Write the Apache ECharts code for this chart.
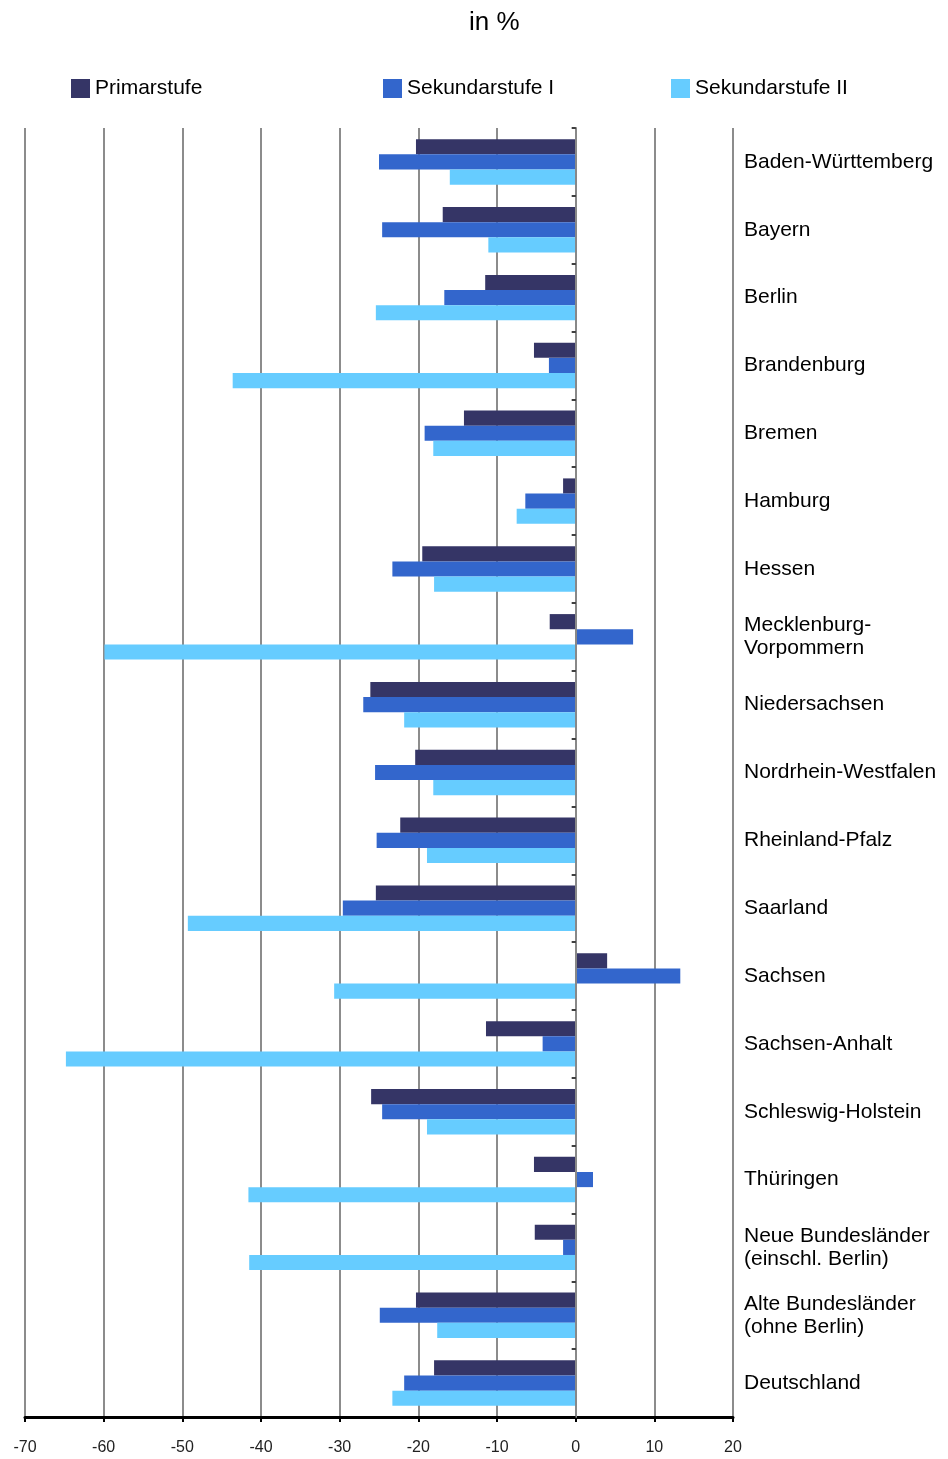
<!DOCTYPE html>
<html>
<head>
<meta charset="utf-8">
<script src="https://cdn.jsdelivr.net/npm/echarts@6/dist/echarts.min.js"></script>
<style>
  html, body { margin: 0; padding: 0; background: #fff; }
  #chart { width: 948px; height: 1459px; }
</style>
</head>
<body>
<div id="chart"></div>
<script>
const laender = [
  'Baden-Württemberg', 'Bayern', 'Berlin', 'Brandenburg', 'Bremen', 'Hamburg',
  'Hessen', 'Mecklenburg-\nVorpommern', 'Niedersachsen', 'Nordrhein-Westfalen',
  'Rheinland-Pfalz', 'Saarland', 'Sachsen', 'Sachsen-Anhalt', 'Schleswig-Holstein',
  'Thüringen', 'Neue Bundesländer\n(einschl. Berlin)', 'Alte Bundesländer\n(ohne Berlin)',
  'Deutschland'
];
const primarstufe = [-20.3, -16.9, -11.5, -5.3, -14.2, -1.6, -19.5, -3.3, -26.1, -20.4,
  -22.3, -25.4, 4.0, -11.4, -26.0, -5.3, -5.2, -20.3, -18.0];
const sekundarstufe1 = [-25.0, -24.6, -16.7, -3.4, -19.2, -6.4, -23.3, 7.3, -27.0, -25.5,
  -25.3, -29.6, 13.3, -4.2, -24.6, 2.2, -1.6, -24.9, -21.8];
const sekundarstufe2 = [-16.0, -11.1, -25.4, -43.6, -18.1, -7.5, -18.0, -59.9, -21.8, -18.1,
  -18.9, -49.3, -30.7, -64.8, -18.9, -41.6, -41.5, -17.6, -23.3];
const seriesNames = ['Primarstufe', 'Sekundarstufe I', 'Sekundarstufe II'];
const colors = ['#353566', '#3366cc', '#66ccff'];

const font = 'Liberation Sans, Arial, sans-serif';
const chart = echarts.init(document.getElementById('chart'));

// plot area: -70..20 from x=25 to x=733
const plotLeft = 25, plotRight = 733;
const xMin = -70, xMax = 20;
const zeroX = plotLeft + (0 - xMin) / (xMax - xMin) * (plotRight - plotLeft);

const legendLeft = [66, 378, 666];
const legends = seriesNames.map((name, i) => ({
  data: [name],
  left: legendLeft[i],
  top: 73,
  itemWidth: 19,
  itemHeight: 19,
  itemGap: 0,
  icon: 'rect',
  textStyle: { fontFamily: font, fontSize: 21, color: '#000' }
}));

const values = [primarstufe, sekundarstufe1, sekundarstufe2];

chart.setOption({
  animation: false,
  title: {
    text: 'in %',
    left: 464,
    top: 5,
    textStyle: { fontFamily: font, fontSize: 26, fontWeight: 'normal', color: '#000' }
  },
  legend: legends,
  grid: [
    { left: plotLeft, right: 948 - plotRight, top: 128, bottom: 42 },
    { left: zeroX, width: 1, top: 128, bottom: 42 }
  ],
  xAxis: [
    {
      type: 'value',
      min: xMin,
      max: xMax,
      interval: 10,
      axisLine: { show: true, lineStyle: { color: '#000', width: 3 } },
      axisTick: { show: true, length: 5, lineStyle: { color: '#000', width: 2 } },
      axisLabel: { fontFamily: font, fontSize: 16, color: '#222', margin: 23 },
      splitLine: { show: true, lineStyle: { color: '#666', width: 1.5 } }
    },
    { type: 'value', gridIndex: 1, show: false, min: 0, max: 1 }
  ],
  yAxis: [
    {
      type: 'category',
      data: laender,
      inverse: true,
      position: 'right',
      axisLine: { show: false },
      axisTick: { show: false },
      axisLabel: {
        fontFamily: font, fontSize: 21, color: '#000', margin: 11,
        align: 'left', lineHeight: 23
      }
    },
    {
      type: 'category',
      gridIndex: 1,
      data: laender,
      inverse: true,
      position: 'left',
      z: 5,
      axisLine: { show: true, lineStyle: { color: '#888', width: 2 } },
      axisTick: { show: true, length: 4, lineStyle: { color: '#000', width: 1.5 } },
      axisLabel: { show: false }
    }
  ],
  series: seriesNames.map((name, i) => ({
    name: name,
    type: 'bar',
    yAxisIndex: 0,
    data: values[i],
    barGap: 0,
    barCategoryGap: '33%',
    itemStyle: { color: colors[i] }
  }))
});
</script>
</body>
</html>
